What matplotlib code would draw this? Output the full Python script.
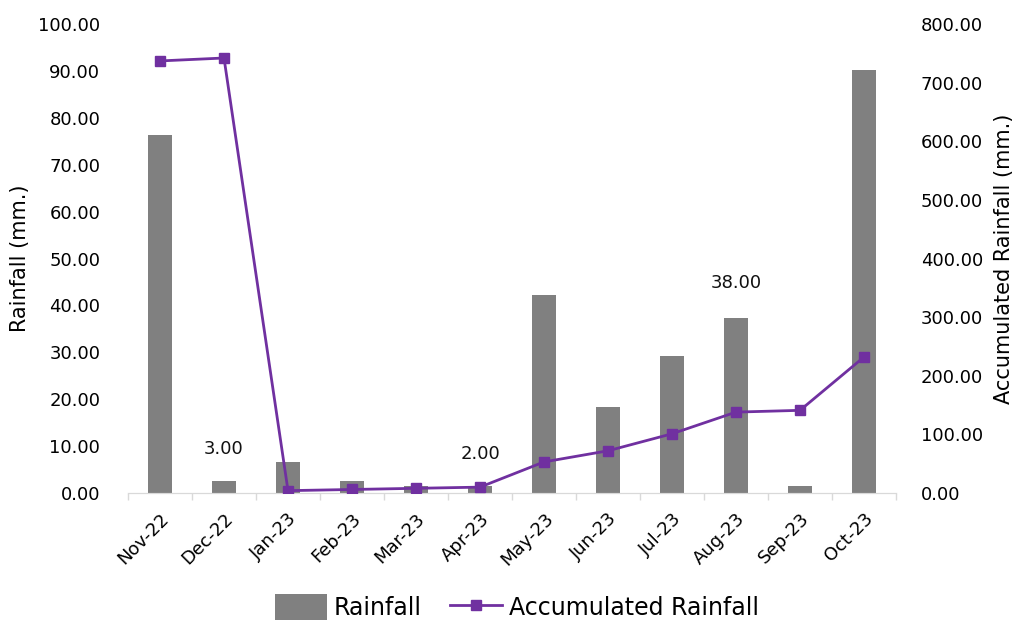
import matplotlib
matplotlib.use("Agg")
import matplotlib.pyplot as plt
import numpy as np
from matplotlib.lines import Line2D
from matplotlib.patches import Patch

months = ["Nov-22", "Dec-22", "Jan-23", "Feb-23", "Mar-23", "Apr-23",
          "May-23", "Jun-23", "Jul-23", "Aug-23", "Sep-23", "Oct-23"]
rainfall = [76.3, 2.6, 6.6, 2.6, 1.5, 1.5, 42.2, 18.3, 29.2, 37.3, 1.5, 90.2]
accumulated = [737, 742, 4, 6, 8, 10, 53, 72, 101, 138, 141, 232]
annotations = {1: "3.00", 5: "2.00", 9: "38.00"}
annot_y = {1: 9.3, 5: 8.4, 9: 44.8}

plt.rcParams['font.family'] = ['DejaVu Sans']
fig = plt.figure(figsize=(10.24, 6.23), dpi=100)
ax = fig.add_axes([128/1024, 1-493/623, (896-128)/1024, (493-24)/623])
ax2 = ax.twinx()

x = np.arange(len(months))
ax.bar(x, rainfall, width=0.39, color="#808080", zorder=2)
ax2.plot(x, accumulated, color="#7030A0", lw=2, marker="s", ms=7, zorder=3)

for i, t in annotations.items():
    ax.text(x[i], annot_y[i], t, ha="center", va="center", fontsize=13, color="#111111")

ax.set_xlim(-0.5, len(months) - 0.5)
ax.set_ylim(0, 100)
ax2.set_ylim(0, 800)
ax.set_yticks(np.arange(0, 101, 10))
ax.set_yticklabels([f"{v:.2f}" for v in np.arange(0, 101, 10)])
ax2.set_yticks(np.arange(0, 801, 100))
ax2.set_yticklabels([f"{v:.2f}" for v in np.arange(0, 801, 100)])

ax.set_xticks(x)
ax.set_xticklabels(months, rotation=45, ha="right", rotation_mode="anchor")
ax.set_xticks(np.arange(-0.5, len(months), 1), minor=True)
ax.tick_params(axis="x", which="major", length=0, pad=12, labelsize=13)
ax.tick_params(axis="x", which="minor", length=5, color="#d9d9d9", width=1)
ax.tick_params(axis="y", length=0, labelsize=13, pad=20)
ax2.tick_params(axis="y", length=0, labelsize=13, pad=18)

for a in (ax, ax2):
    for s in ("top", "left", "right"):
        a.spines[s].set_visible(False)
    a.spines["bottom"].set_color("#d9d9d9")

ax.set_ylabel("Rainfall (mm.)", fontsize=15, labelpad=6)
ax2.set_ylabel("Accumulated Rainfall (mm.)", fontsize=15, labelpad=8)

handles = [Patch(facecolor="#808080", label="Rainfall"),
           Line2D([0], [0], color="#7030A0", lw=2, marker="s", ms=7, label="Accumulated Rainfall")]
fig.legend(handles=handles, loc="center", bbox_to_anchor=(517/1024, 1-607/623), ncol=2,
           frameon=False, fontsize=17, handlelength=2.2, handleheight=1.3,
           handletextpad=0.3, columnspacing=1.2)

fig.savefig("out.png", dpi=100)
